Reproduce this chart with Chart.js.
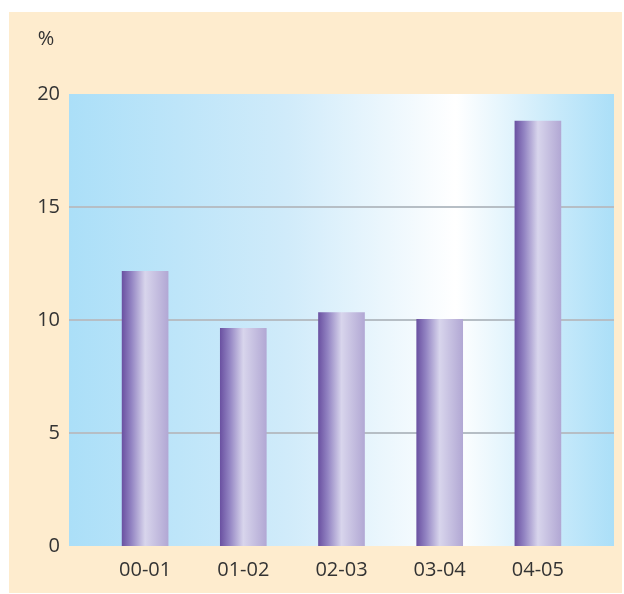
<!DOCTYPE html>
<html>
<head>
<meta charset="utf-8">
<script src="https://cdn.jsdelivr.net/npm/chart.js@4"></script>
<style>
  html, body { margin: 0; padding: 0; background: #ffffff; }
  #wrap { width: 624px; height: 594px; }
</style>
</head>
<body>
<div id="wrap"><canvas id="grafico" width="624" height="594"></canvas></div>
<script>
// datos
const periodos = ['00-01', '01-02', '02-03', '03-04', '04-05'];
const porcentajes = [12.15, 9.63, 10.33, 10.03, 18.8];
const marcasY = [0, 5, 10, 15, 20];
const unidad = '%';

const fuente = '"Open Sans", "DejaVu Sans", sans-serif';
const colorTexto = '#333333';
const extra = 27; // el fondo del area sale un poco mas alla de las categorias

// fondo crema, degradado celeste y lineas horizontales
const fondoPlugin = {
  id: 'fondo',
  beforeDraw(chart) {
    const c = chart.ctx;
    const a = chart.chartArea;
    c.save();
    c.fillStyle = '#feecce';
    c.fillRect(9, 12, 613, 581);

    const izq = a.left - extra, der = a.right + extra;
    const g = c.createLinearGradient(izq, 0, der, 0);
    g.addColorStop(0, '#abdff8');
    g.addColorStop(0.4, '#d0ebfa');
    g.addColorStop(0.71, '#ffffff');
    g.addColorStop(0.9, '#c6e9fa');
    g.addColorStop(1, '#abdff8');
    c.fillStyle = g;
    c.fillRect(izq, a.top, der - izq, a.bottom - a.top);

    const y = chart.scales.y;
    c.strokeStyle = '#b6bec5';
    c.lineWidth = 2;
    marcasY.forEach(v => {
      if (v === 0 || v === 20) return;
      const py = Math.round(y.getPixelForValue(v));
      c.beginPath();
      c.moveTo(izq, py);
      c.lineTo(der, py);
      c.stroke();
    });

    c.fillStyle = colorTexto;
    c.font = '20px ' + fuente;
    c.textAlign = 'center';
    c.textBaseline = 'middle';
    c.fillText(unidad, 46, 39);
    c.restore();
  },
  // degradado morado en cada barra, ya con la posicion final
  beforeDatasetsDraw(chart) {
    const c = chart.ctx;
    chart.getDatasetMeta(0).data.forEach(bar => {
      const l = bar.x - bar.width / 2, r = bar.x + bar.width / 2;
      const g = c.createLinearGradient(l, 0, r, 0);
      g.addColorStop(0, '#6b52a2');
      g.addColorStop(0.2, '#9283c2');
      g.addColorStop(0.5, '#d8d5ec');
      g.addColorStop(1, '#b2a8d4');
      // las opciones vienen compartidas, cada barra necesita su copia
      bar.options = Object.assign({}, bar.options, { backgroundColor: g });
    });
  }
};

const ctx = document.getElementById('grafico').getContext('2d');
new Chart(ctx, {
  type: 'bar',
  data: {
    labels: periodos,
    datasets: [{
      data: porcentajes,
      backgroundColor: '#a99fd0',
      borderWidth: 0,
      barThickness: 46
    }]
  },
  options: {
    responsive: false,
    animation: false,
    layout: { padding: { top: 94, right: 37, left: 0, bottom: 0 } },
    scales: {
      x: {
        grid: { display: false, drawTicks: false },
        border: { display: false },
        ticks: { color: colorTexto, font: { family: fuente, size: 20 }, padding: 12 },
        afterFit: s => { s.height = 45; }
      },
      y: {
        min: 0,
        max: 20,
        grid: { display: false, drawTicks: false },
        border: { display: false },
        afterBuildTicks: s => { s.ticks = marcasY.map(v => ({ value: v })); },
        ticks: { color: colorTexto, font: { family: fuente, size: 20 }, padding: 36 },
        afterFit: s => { s.width = 96; }
      }
    },
    plugins: {
      legend: { display: false },
      tooltip: { enabled: false }
    }
  },
  plugins: [fondoPlugin]
});
</script>
</body>
</html>
